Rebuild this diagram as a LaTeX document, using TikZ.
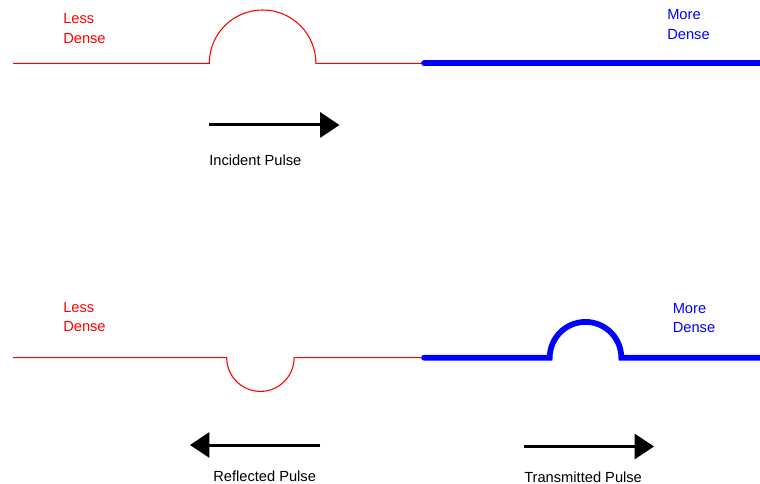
\documentclass[tikz,border=0pt]{standalone}
\usepackage{fontspec}
\setmainfont{Liberation Sans}
\usetikzlibrary{arrows.meta}

\begin{document}
\begin{tikzpicture}[x=0.75pt,y=-0.75pt,
            every node/.style={inner sep=0pt,anchor=west,align=left,
              font=\fontsize{11}{14.6}\selectfont},
            less/.style={draw=red,line width=0.8pt},
            more/.style={draw=blue,line width=4.3pt,line cap=round},
            >={Triangle[length=14.5pt,width=18.75pt]}]
            \useasboundingbox(0,0)rectangle(760,484);
            % incident pulse on the light string
            \draw[less](13,63.3)--(209.3,63.3)arc(180:360:53.3)--(424,63.3);
            \draw[more](424,63.3)--(775,63.3);
            \node[text=red](lessA)at(63,28.5){Less\\Dense};
            \node[text=blue](moreA)at(667,24.5){More\\Dense};
            \coordinate(incS)at(209,125);
            \coordinate(incE)at(339.5,125);
            \draw[->,line width=2.25pt](incS)--(incE);
            \node(inc)at(209,160){Incident Pulse};
            % reflected and transmitted pulses
            \draw[less](13,357.7)--(226.7,357.7)arc(180:0:33.7)--(424,357.7);
            \draw[more](424,357.7)--(549.7,357.7)arc(180:360:35.8)--(775,357.7);
            \node[text=red](lessB)at(63,317){Less\\Dense};
            \node[text=blue](moreB)at(672.5,318){More\\Dense};
            \coordinate(refS)at(320,445);
            \coordinate(refE)at(190,445);
            \draw[->,line width=2.25pt](refS)--(refE);
            \node(ref)at(213,476){Reflected Pulse};
            \coordinate(traS)at(524,446.5);
            \coordinate(traE)at(654,446.5);
            \draw[->,line width=2.25pt](traS)--(traE);
            \node(tra)at(524,477){Transmitted Pulse};
          \end{tikzpicture}
\end{document}
